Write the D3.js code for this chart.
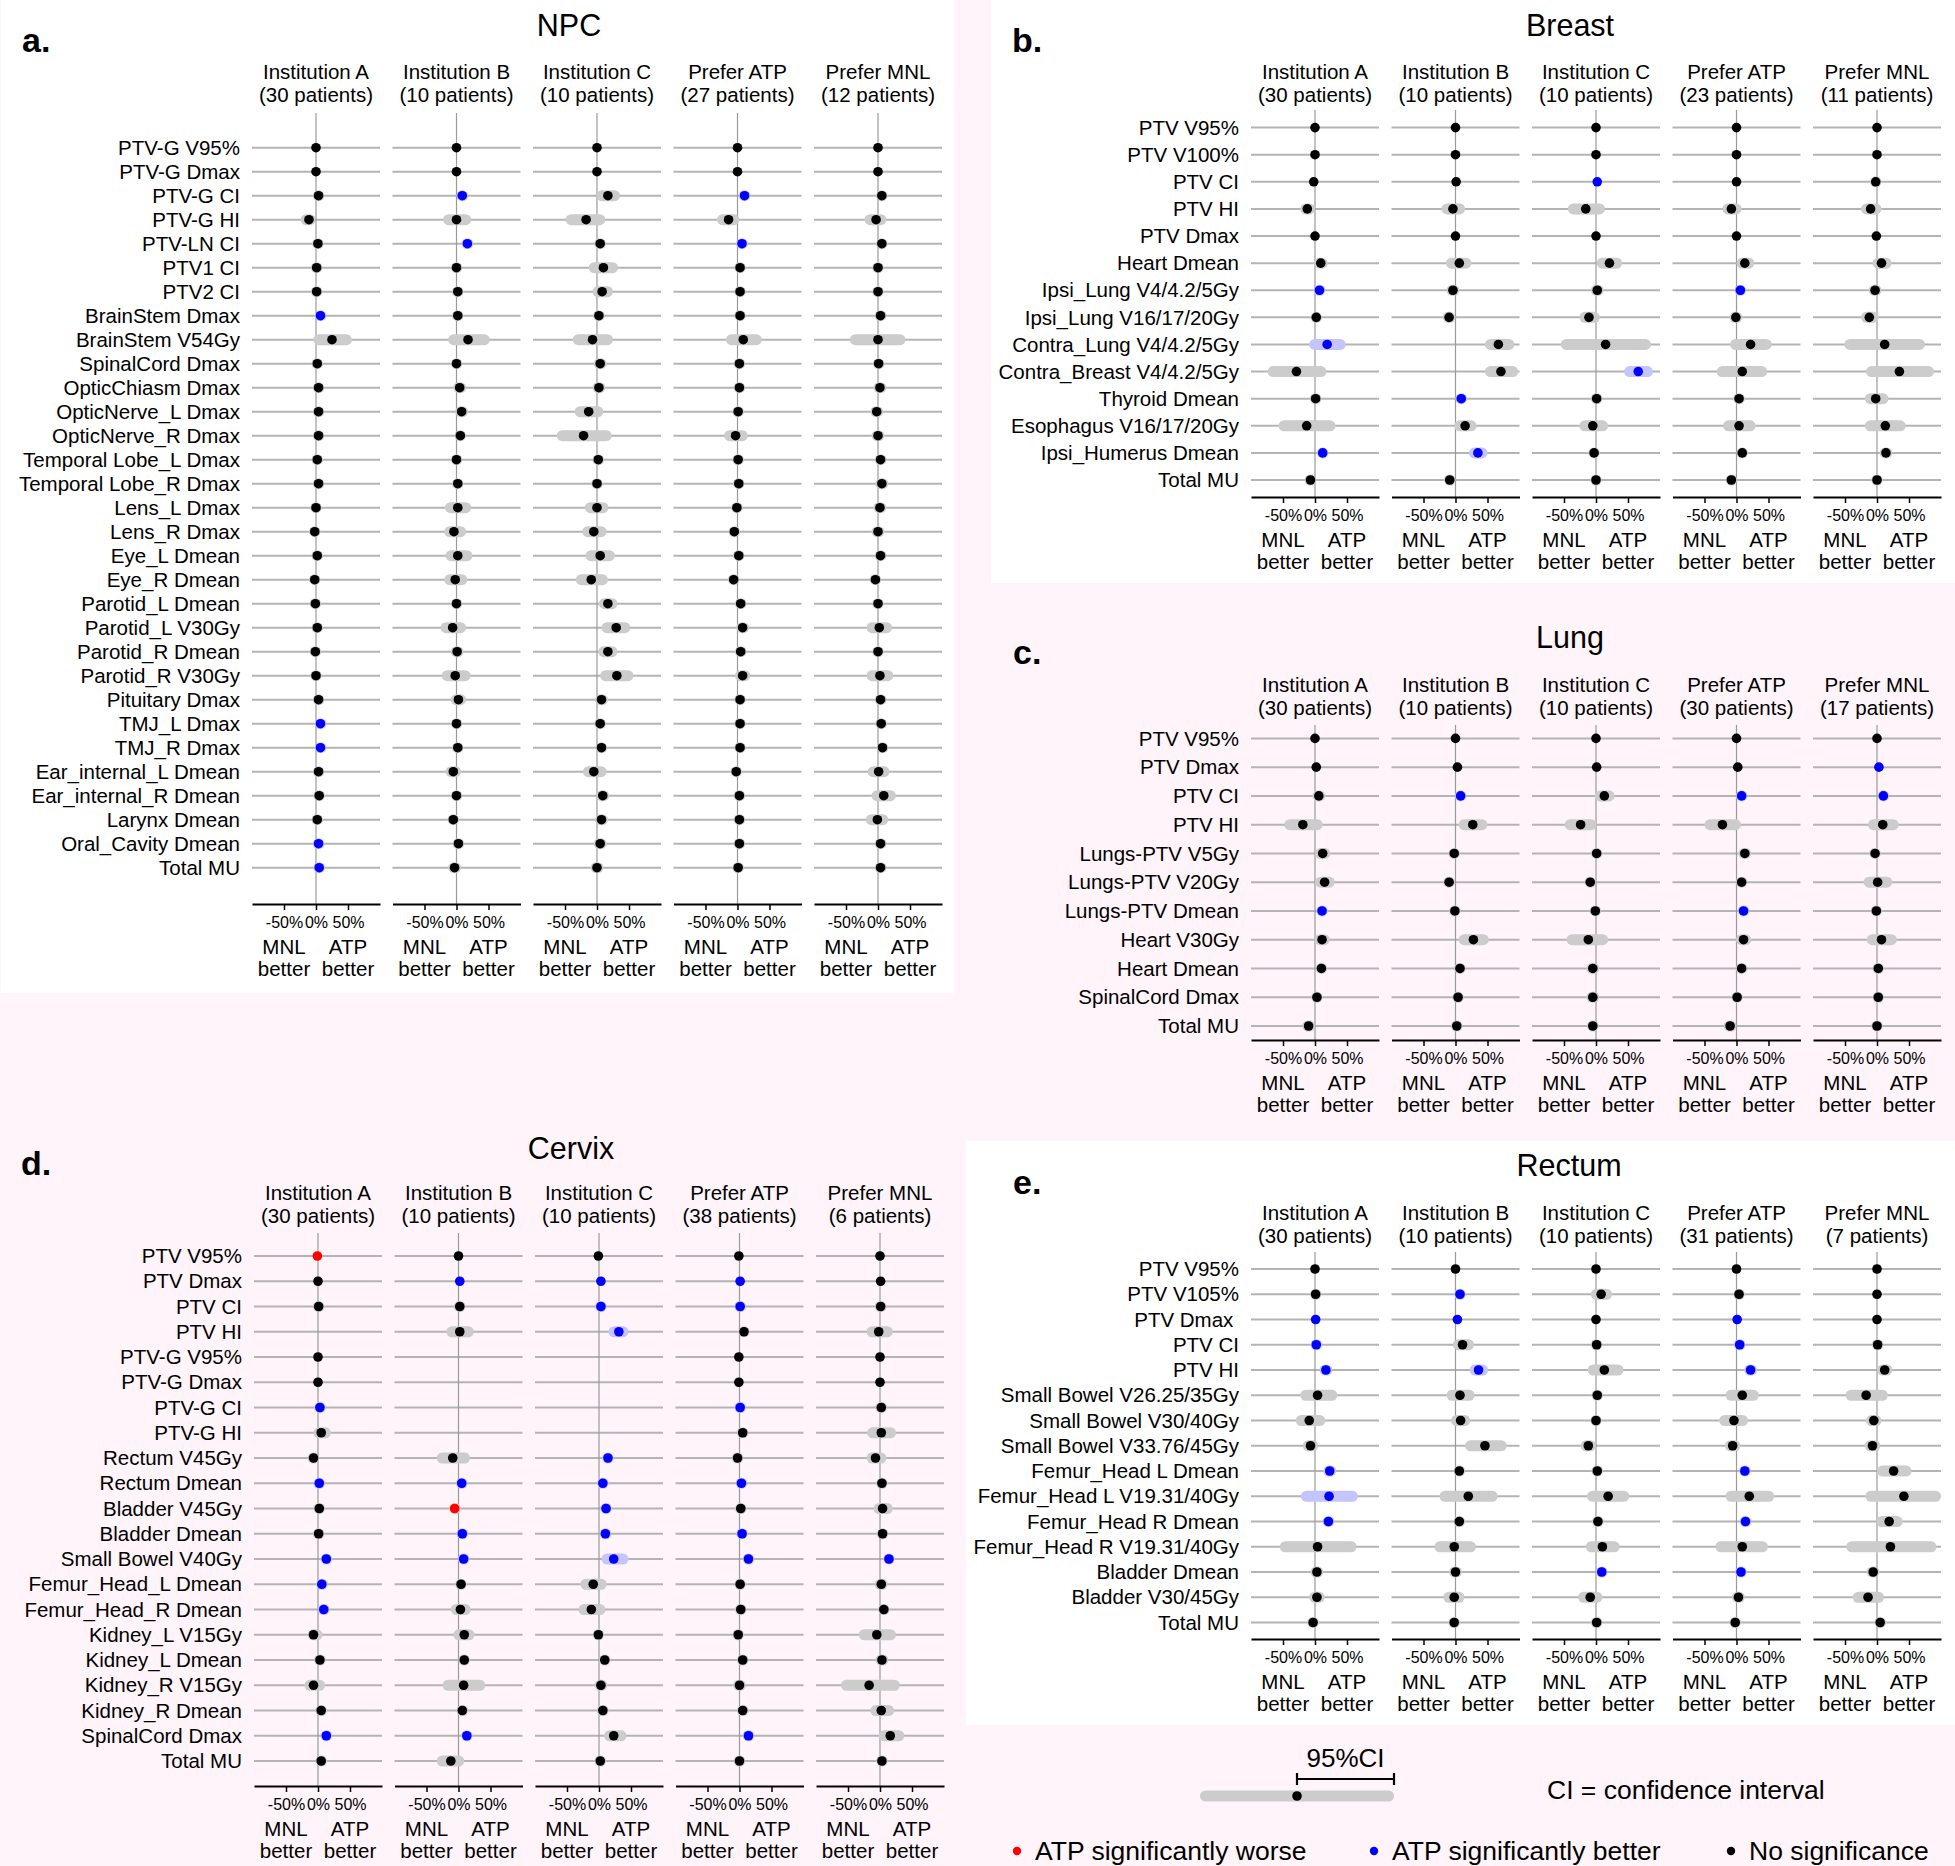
<!DOCTYPE html>
<html>
<head>
<meta charset="utf-8">
<script src="https://cdn.jsdelivr.net/npm/d3@7"></script>
<style>
  body { margin: 0; background: #fef4f9; }
  svg { display: block; font-family: "Liberation Sans", Arial, Helvetica, sans-serif; }
</style>
</head>
<body>
<svg id="fig" width="1955" height="1866"></svg>
<script>
// column groups shared by every panel
const groups = ['Institution A', 'Institution B', 'Institution C', 'Prefer ATP', 'Prefer MNL'];

// ---- NPC ----
const npcPatients = [30, 10, 10, 27, 12];
const npcRows = ['PTV-G V95%', 'PTV-G Dmax', 'PTV-G CI', 'PTV-G HI', 'PTV-LN CI', 'PTV1 CI', 'PTV2 CI',
  'BrainStem Dmax', 'BrainStem V54Gy', 'SpinalCord Dmax', 'OpticChiasm Dmax', 'OpticNerve_L Dmax',
  'OpticNerve_R Dmax', 'Temporal Lobe_L Dmax', 'Temporal Lobe_R Dmax', 'Lens_L Dmax', 'Lens_R Dmax',
  'Eye_L Dmean', 'Eye_R Dmean', 'Parotid_L Dmean', 'Parotid_L V30Gy', 'Parotid_R Dmean', 'Parotid_R V30Gy',
  'Pituitary Dmax', 'TMJ_L Dmax', 'TMJ_R Dmax', 'Ear_internal_L Dmean', 'Ear_internal_R Dmean',
  'Larynx Dmean', 'Oral_Cavity Dmean', 'Total MU'];
const npcEst = [
  [0,0,0,0,0], [0,0,0,0,0], [4,9,17,11,6], [-11,0,-17,-14,-3], [3,17,5,7,6], [1,0,10,4,0], [1,2,8,4,0],
  [7,2,3,4,4], [25,18,-7,9,0], [2,0,5,3,1], [4,5,3,3,3], [4,8,-13,1,-2], [4,6,-21,-3,0], [2,0,2,1,4],
  [4,2,0,2,6], [0,2,0,-1,3], [-2,-4,-5,-5,0], [2,2,5,2,4], [-2,-2,-9,-6,-4], [-1,0,17,5,0], [2,-6,30,8,2],
  [-1,1,17,5,0], [0,-2,31,8,3], [4,3,7,4,4], [7,0,5,4,5], [7,2,7,4,7], [4,-5,-5,-2,1], [5,0,9,3,9],
  [2,-5,7,3,-1], [4,3,5,3,4], [5,-3,0,1,4]
];
const npcLo = [
  [0,0,0,0,0], [0,0,0,0,0], [-1,6,-1,7,1], [-24,-21,-49,-32,-21], [1,12,0,4,3], [-1,-2,-13,-2,-2],
  [-1,0,-7,0,-2], [4,-4,-4,1,-4], [-4,-13,-38,-18,-44], [0,-2,-5,0,-1], [-2,-5,-7,-2,-7],
  [0,-2,-35,-7,-12], [0,-2,-63,-21,-10], [0,-2,-6,-1,-4], [-2,0,-8,0,-4], [-5,-18,-19,-9,-7],
  [-7,-19,-23,-13,-10], [-1,-17,-18,-6,-2], [-8,-19,-33,-14,-12], [-4,-8,3,-3,-8], [-1,-25,7,-2,-18],
  [-4,-9,2,-3,-8], [-6,-23,5,-4,-18], [2,-9,-3,1,1], [4,-2,-3,1,-3], [4,0,-1,1,0], [1,-17,-22,-8,-16],
  [2,-2,-1,0,-10], [-4,-8,-3,-5,-19], [1,-5,-5,0,-3], [2,-13,-10,-2,-4]
];
const npcHi = [
  [0,0,0,0,0], [0,0,0,0,0], [9,12,36,15,11], [-1,23,13,3,13], [5,22,10,10,9], [3,2,33,10,2],
  [3,4,25,8,2], [10,8,10,7,12], [56,52,25,38,43], [4,2,15,6,3], [10,15,13,8,13], [8,18,10,9,8],
  [8,14,23,16,10], [4,2,10,3,12], [10,4,8,4,16], [5,23,18,7,13], [3,15,15,3,10], [5,25,28,10,10],
  [4,17,17,2,4], [2,8,32,13,8], [5,15,52,18,22], [2,11,32,13,8], [6,22,57,20,24], [6,15,17,7,7],
  [10,2,13,7,13], [10,4,15,7,14], [7,7,15,4,18], [8,2,19,6,28], [8,-2,17,11,16], [7,11,15,6,11],
  [8,7,10,4,12]
];
// b = ATP significantly better, w = ATP significantly worse
const npcSig = ['00000','00000','0b0b0','00000','0b0b0','00000','00000','b0000','00000','00000','00000',
  '00000','00000','00000','00000','00000','00000','00000','00000','00000','00000','00000','00000','00000',
  'b0000','b0000','00000','00000','00000','b0000','b0000'];

// ---- Breast ----
const brPatients = [30, 10, 10, 23, 11];
const brRows = ['PTV V95%', 'PTV V100%', 'PTV CI', 'PTV HI', 'PTV Dmax', 'Heart Dmean', 'Ipsi_Lung V4/4.2/5Gy',
  'Ipsi_Lung V16/17/20Gy', 'Contra_Lung V4/4.2/5Gy', 'Contra_Breast V4/4.2/5Gy', 'Thyroid Dmean',
  'Esophagus V16/17/20Gy', 'Ipsi_Humerus Dmean', 'Total MU'];
const brEst = [
  [0,0,0,0,0], [0,0,0,0,0], [-2,1,2,0,-2], [-12,-4,-16,-8,-10], [0,0,0,0,-1], [9,6,21,13,7],
  [7,-4,2,6,-3], [2,-10,-11,-1,-12], [19,67,15,22,12], [-29,71,66,9,35], [1,9,1,4,-2],
  [-13,15,-5,4,13], [12,35,-3,9,14], [-7,-9,0,-8,0]
];
const brLo = [
  [0,0,0,0,0], [0,0,0,0,0], [-2,1,2,0,-10], [-23,-22,-44,-22,-25], [0,0,0,0,-1], [-2,-15,1,0,-7],
  [-1,-14,-8,1,-13], [-6,-20,-26,-11,-25], [-9,46,-55,-10,-51], [-74,46,44,-31,-17], [-7,7,-4,-2,-19],
  [-57,-2,-26,-21,-19], [6,21,-11,3,4], [-16,-18,-9,-16,-9]
];
const brHi = [
  [0,0,0,0,0], [0,0,0,0,0], [-2,1,2,0,6], [0,15,14,8,7], [0,0,0,0,-1], [20,25,41,28,23],
  [15,6,12,11,7], [10,0,6,9,3], [48,92,86,55,75], [18,98,89,48,89], [9,11,6,10,18],
  [32,33,19,30,45], [18,50,5,15,24], [2,0,9,0,9]
];
const brSig = ['00000','00000','00b00','00000','00000','00000','b00b0','00000','b0000','00b00','0b000',
  '00000','bb000','00000'];

// ---- Lung ----
const luPatients = [30, 10, 10, 30, 17];
const luRows = ['PTV V95%', 'PTV Dmax', 'PTV CI', 'PTV HI', 'Lungs-PTV V5Gy', 'Lungs-PTV V20Gy',
  'Lungs-PTV Dmean', 'Heart V30Gy', 'Heart Dmean', 'SpinalCord Dmax', 'Total MU'];
const luEst = [
  [0,0,0,0,0], [2,3,1,2,3], [6,8,13,8,10], [-19,27,-24,-22,9], [12,-2,1,13,-3], [15,-10,-9,8,1],
  [11,-1,-1,11,-1], [11,28,-12,11,7], [10,7,-5,8,2], [3,4,-5,1,2], [-10,2,-5,-10,0]
];
const luLo = [
  [0,0,0,0,0], [2,3,1,2,3], [-4,2,-2,2,2], [-48,5,-49,-50,-14], [0,-4,-1,3,-11], [0,-18,-18,0,-21],
  [5,-3,-3,5,-7], [-1,5,-46,-1,-16], [2,-1,-15,0,-6], [-5,-4,-15,-7,-6], [-20,-6,-13,-20,-8]
];
const luHi = [
  [0,0,0,0,0], [2,3,1,2,3], [16,14,29,14,18], [12,50,1,7,34], [24,0,3,23,5], [31,-2,0,16,24],
  [17,1,1,17,5], [23,52,19,23,31], [18,15,5,16,10], [11,12,5,9,10], [0,10,3,0,8]
];
const luSig = ['00000','0000b','0b0bb','00000','00000','00000','b00b0','00000','00000','00000','00000'];

// ---- Cervix ----
const cxPatients = [30, 10, 10, 38, 6];
const cxRows = ['PTV V95%', 'PTV Dmax', 'PTV CI', 'PTV HI', 'PTV-G V95%', 'PTV-G Dmax', 'PTV-G CI', 'PTV-G HI',
  'Rectum V45Gy', 'Rectum Dmean', 'Bladder V45Gy', 'Bladder Dmean', 'Small Bowel V40Gy', 'Femur_Head_L Dmean',
  'Femur_Head_R Dmean', 'Kidney_L V15Gy', 'Kidney_L Dmean', 'Kidney_R V15Gy', 'Kidney_R Dmean',
  'SpinalCord Dmax', 'Total MU'];
const cxEst = [
  [-1,0,-1,-1,0], [0,2,3,1,1], [1,2,3,1,1], [null,2,31,7,-2], [0,null,null,-1,0], [0,null,null,-1,0],
  [3,null,null,1,2], [5,null,null,5,2], [-7,-9,14,-3,-7], [2,5,6,3,3], [2,-6,11,2,4], [1,6,10,4,4],
  [13,8,23,14,14], [6,4,-9,1,2], [9,3,-12,2,6], [-7,9,-1,-2,-5], [3,9,9,5,3], [-7,8,3,0,-17],
  [5,6,6,5,2], [13,13,23,14,16], [5,-12,2,0,3]
];
const cxLo = [
  [-1,0,-1,-1,0], [0,2,3,1,1], [-1,-3,1,-1,-5], [null,-19,15,-1,-21], [0,null,null,-1,0],
  [0,null,null,-1,0], [1,null,null,-1,-4], [-7,null,null,-1,-20], [-15,-34,8,-11,-21], [0,3,4,1,-2],
  [-3,-9,6,-3,-10], [-1,4,8,2,-4], [7,3,4,8,6], [3,-4,-29,-5,-8], [6,-12,-32,-4,0], [-16,-8,-3,-8,-33],
  [-3,3,3,0,-7], [-21,-25,-7,-10,-61], [-1,-2,-2,0,-15], [8,5,8,8,-2], [-3,-34,-6,-8,-5]
];
const cxHi = [
  [-1,0,-1,-1,0], [0,2,3,1,1], [3,7,5,3,7], [null,24,46,15,20], [0,null,null,-1,0], [0,null,null,-1,0],
  [5,null,null,3,8], [20,null,null,11,25], [1,18,20,5,10], [4,7,8,5,8], [7,-3,16,7,20], [3,8,12,6,12],
  [19,13,46,20,22], [9,12,12,7,12], [12,19,10,8,12], [7,25,1,4,25], [9,15,15,10,13], [11,42,13,10,31],
  [11,14,14,10,22], [18,21,43,20,38], [13,9,10,8,11]
];
const cxSig = ['w0000','0bbb0','00bb0','00b00','00000','00000','b00b0','00000','00b00','bbbb0','0wb00',
  '0bbb0','bbbbb','b0000','b0000','00000','00000','00000','00000','bb0b0','00000'];

// ---- Rectum ----
const rePatients = [30, 10, 10, 31, 7];
const reRows = ['PTV V95%', 'PTV V105%', 'PTV Dmax\u00a0', 'PTV CI', 'PTV HI', 'Small Bowel V26.25/35Gy',
  'Small Bowel V30/40Gy', 'Small Bowel V33.76/45Gy', 'Femur_Head L Dmean', 'Femur_Head L V19.31/40Gy',
  'Femur_Head R Dmean', 'Femur_Head R V19.31/40Gy', 'Bladder Dmean', 'Bladder V30/45Gy', 'Total MU'];
const reEst = [
  [0,0,0,0,0], [1,7,8,4,0], [1,3,0,1,0], [2,11,1,5,1], [17,36,13,22,12], [4,7,2,9,-17],
  [-9,8,0,-4,-5], [-7,46,-12,-6,-7], [23,6,2,13,26], [22,20,19,20,42], [21,6,3,14,19],
  [4,-2,10,9,21], [3,0,9,7,-6], [3,-2,-9,3,-14], [-3,-2,1,-2,5]
];
const reLo = [
  [0,0,0,0,0], [-1,1,-8,-2,0], [1,3,0,1,0], [0,-4,-1,0,-4], [7,22,-13,12,0], [-23,-14,0,-17,-49],
  [-30,-7,-2,-27,-17], [-19,15,-24,-18,-19], [13,1,-6,5,0], [-22,-25,-14,-17,-18], [13,0,-5,8,-1],
  [-55,-33,-16,-33,-48], [-7,-10,4,1,-16], [-9,-19,-28,-7,-38], [-11,-7,-1,-10,-3]
];
const reHi = [
  [0,0,0,0,0], [3,13,25,10,0], [1,3,0,1,0], [4,29,3,10,6], [27,51,43,32,24], [35,30,4,35,17],
  [16,23,2,18,7], [5,80,0,6,5], [33,11,10,21,54], [67,66,52,59,100], [29,12,11,20,40],
  [65,32,37,49,93], [13,10,14,13,4], [15,14,10,13,11], [5,3,3,6,13]
];
const reSig = ['00000','0b000','bb0b0','b00b0','bb0b0','00000','00000','00000','b00b0','b0000','b00b0',
  '00000','00bb0','00000','00000'];

const legendItems = [
  { sig: 'w', label: 'ATP significantly worse' },
  { sig: 'b', label: 'ATP significantly better' },
  { sig: '0', label: 'No significance' }
];

const dotColor = { b: '#0000ff', w: '#ff0000', '0': '#000000' };
const ciColor = { b: '#c4c4ff', w: '#ffc4c4', '0': '#cccccc' };

const svg = d3.select('#fig');
const colW = 128, colStep = 140.5;

// panel backgrounds
svg.append('rect').attr('x', 1).attr('y', 0).attr('width', 953).attr('height', 993).attr('fill', '#fff');
svg.append('rect').attr('x', 991).attr('y', 0).attr('width', 964).attr('height', 583).attr('fill', '#fff');
svg.append('rect').attr('x', 966).attr('y', 1141).attr('width', 989).attr('height', 584).attr('fill', '#fff');

function drawPanel(p) {
  const g = svg.append('g');
  const y = d3.scalePoint().domain(p.rows).range([p.rowTop, p.rowBot]);

  g.append('text').attr('x', p.titleX).attr('y', p.titleY).attr('dy', '0.35em')
    .attr('text-anchor', 'middle').style('font-size', '30.5px').text(p.title);
  g.append('text').attr('x', p.letterX).attr('y', p.letterY)
    .style('font-size', '34px').style('font-weight', 'bold').text(p.letter);

  g.selectAll('text.rowlab').data(p.rows).join('text')
    .attr('class', 'rowlab')
    .attr('x', p.x0 - 12).attr('y', d => y(d)).attr('dy', '0.35em')
    .attr('text-anchor', 'end').style('font-size', '20.5px')
    .text(d => d);

  groups.forEach((grp, j) => {
    const left = p.x0 + j * colStep;
    const x = d3.scaleLinear().domain([-100, 100]).range([left, left + colW]);
    const col = g.append('g');

    col.append('text').attr('x', x(0)).attr('y', p.headY).attr('dy', '0.35em')
      .attr('text-anchor', 'middle').style('font-size', '20.5px').text(grp);
    col.append('text').attr('x', x(0)).attr('y', p.headY + 22.5).attr('dy', '0.35em')
      .attr('text-anchor', 'middle').style('font-size', '20.5px').text(`(${p.patients[j]} patients)`);

    col.selectAll('line.rowline').data(p.rows).join('line')
      .attr('class', 'rowline')
      .attr('x1', x(-100)).attr('x2', x(100))
      .attr('y1', d => y(d)).attr('y2', d => y(d))
      .attr('stroke', '#b4b4b4').attr('stroke-width', 2);

    col.append('line')
      .attr('x1', x(0)).attr('x2', x(0)).attr('y1', p.zeroTop).attr('y2', p.axisY)
      .attr('stroke', '#9a9a9a').attr('stroke-width', 1.2);

    const cells = p.rows.map((r, i) => ({
      r, est: p.est[i][j], lo: p.lo[i][j], hi: p.hi[i][j], s: p.sig[i][j]
    })).filter(c => c.est != null);

    // CI drawn as a rounded bar covering lo..hi (at least a little wider than the dot)
    col.selectAll('rect.ci').data(cells.filter(c => c.hi > c.lo)).join('rect')
      .attr('class', 'ci')
      .each(function (c) {
        let a = x(c.lo), b = x(c.hi);
        if (b - a < 11.5) { const m = (a + b) / 2; a = m - 5.75; b = m + 5.75; }
        d3.select(this).attr('x', a).attr('width', b - a);
      })
      .attr('y', c => y(c.r) - 5.5).attr('height', 11).attr('rx', 5.5)
      .attr('fill', c => ciColor[c.s]);

    col.selectAll('circle.pt').data(cells).join('circle')
      .attr('class', 'pt')
      .attr('cx', c => x(c.est)).attr('cy', c => y(c.r)).attr('r', 4.8)
      .attr('fill', c => dotColor[c.s]);

    const ax = col.append('g').attr('transform', `translate(0,${p.axisY})`)
      .call(d3.axisBottom(x).tickValues([-50, 0, 50]).tickFormat(d => d + '%').tickSize(6).tickSizeOuter(0));
    ax.attr('font-family', null).attr('font-size', null);
    ax.select('.domain').attr('stroke', '#000').attr('stroke-width', 2);
    ax.selectAll('.tick line').attr('stroke', '#000').attr('stroke-width', 1.5);
    ax.selectAll('.tick text').attr('y', 13).attr('fill', '#000').style('font-size', '16px');

    [['MNL', -50], ['ATP', 50]].forEach(([w, v]) => {
      col.append('text').attr('x', x(v)).attr('y', p.axisY + 43).attr('dy', '0.35em')
        .attr('text-anchor', 'middle').style('font-size', '20.5px').text(w);
      col.append('text').attr('x', x(v)).attr('y', p.axisY + 65).attr('dy', '0.35em')
        .attr('text-anchor', 'middle').style('font-size', '20.5px').text('better');
    });
  });
}

drawPanel({ title: 'NPC', letter: 'a.', rows: npcRows, patients: npcPatients,
  est: npcEst, lo: npcLo, hi: npcHi, sig: npcSig,
  x0: 252, titleX: 569, titleY: 25, letterX: 22, letterY: 52, headY: 72,
  rowTop: 147.7, rowBot: 867.7, zeroTop: 113, axisY: 904 });

drawPanel({ title: 'Breast', letter: 'b.', rows: brRows, patients: brPatients,
  est: brEst, lo: brLo, hi: brHi, sig: brSig,
  x0: 1251, titleX: 1570, titleY: 25, letterX: 1012, letterY: 52, headY: 72,
  rowTop: 127.6, rowBot: 480, zeroTop: 110, axisY: 497 });

drawPanel({ title: 'Lung', letter: 'c.', rows: luRows, patients: luPatients,
  est: luEst, lo: luLo, hi: luHi, sig: luSig,
  x0: 1251, titleX: 1570, titleY: 637, letterX: 1013, letterY: 664, headY: 685,
  rowTop: 738.4, rowBot: 1026, zeroTop: 725, axisY: 1040 });

drawPanel({ title: 'Cervix', letter: 'd.', rows: cxRows, patients: cxPatients,
  est: cxEst, lo: cxLo, hi: cxHi, sig: cxSig,
  x0: 254, titleX: 571, titleY: 1148, letterX: 21, letterY: 1175, headY: 1193,
  rowTop: 1256, rowBot: 1761, zeroTop: 1233, axisY: 1786 });

drawPanel({ title: 'Rectum', letter: 'e.', rows: reRows, patients: rePatients,
  est: reEst, lo: reLo, hi: reHi, sig: reSig,
  x0: 1251, titleX: 1569, titleY: 1165.5, letterX: 1013, letterY: 1194, headY: 1213,
  rowTop: 1269, rowBot: 1622.5, zeroTop: 1252, axisY: 1639 });

// ---- legend ----
const leg = svg.append('g');
const lx = d3.scaleLinear().domain([0, 1]).range([1200, 1394]);
leg.append('rect').attr('x', lx(0)).attr('width', lx(1) - lx(0)).attr('y', 1790.5).attr('height', 11)
  .attr('rx', 5.5).attr('fill', ciColor['0']);
leg.append('circle').attr('cx', lx(0.5)).attr('cy', 1796).attr('r', 4.8).attr('fill', '#000');
leg.append('path')
  .attr('d', `M${lx(0.5)},1773V1785M${lx(0.5)},1779H${lx(1)}M${lx(1)},1773V1785`)
  .attr('stroke', '#000').attr('stroke-width', 2.2).attr('fill', 'none');
leg.append('text').attr('x', (lx(0.5) + lx(1)) / 2).attr('y', 1767).attr('text-anchor', 'middle')
  .style('font-size', '26px').text('95%CI');
leg.append('text').attr('x', 1547).attr('y', 1799).style('font-size', '26.5px').text('CI = confidence interval');

const itemX = d3.scalePoint().domain(legendItems.map(d => d.label)).range([1017, 1731]);
const li = leg.selectAll('g.item').data(legendItems).join('g').attr('class', 'item')
  .attr('transform', d => `translate(${itemX(d.label)},1851)`);
li.append('circle').attr('r', 4.2).attr('fill', d => dotColor[d.sig]);
li.append('text').attr('x', 18).attr('dy', '0.35em').style('font-size', '26.5px').text(d => d.label);
</script>
</body>
</html>
